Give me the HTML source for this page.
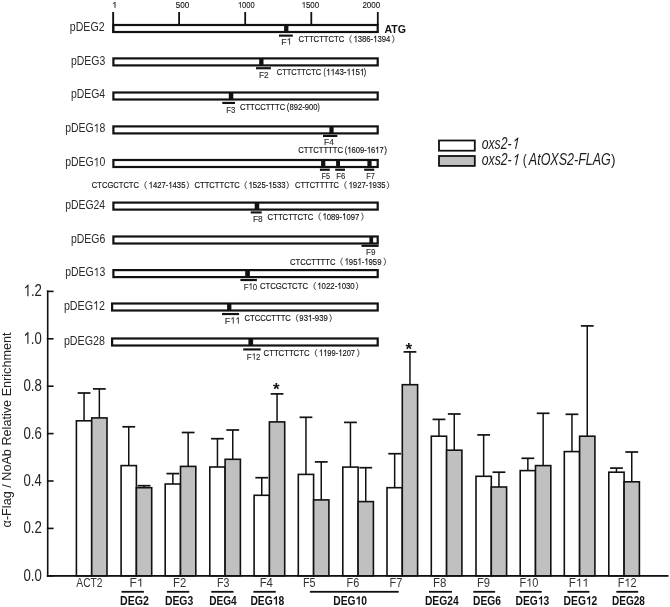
<!DOCTYPE html>
<html><head><meta charset="utf-8"><style>
html,body{margin:0;padding:0;background:#fff;width:670px;height:607px;overflow:hidden}
svg{display:block;filter:grayscale(1)}
text{font-family:"Liberation Sans", sans-serif}
</style></head><body>
<svg width="670" height="607" viewBox="0 0 670 607">
<rect width="670" height="607" fill="#fff"/>
<text x="112.01" y="7.80" font-size="8.4" textLength="5.06" lengthAdjust="spacingAndGlyphs" fill="#111" stroke="#111" stroke-width="0.1"> </text>
<path transform="translate(112.01,7.80) scale(0.00444,-0.00410)" d="M763 0H583V1147Q518 1085 412 1023T223 930V1104Q374 1175 487 1276T647 1409H763V0Z" fill="#111" stroke="#111" stroke-width="0.1" vector-effect="non-scaling-stroke"/>
<text x="175.67" y="7.80" font-size="8.4" textLength="13.65" lengthAdjust="spacingAndGlyphs" fill="#111" stroke="#111" stroke-width="0.1">500</text>
<text x="237.88" y="7.80" font-size="8.4" textLength="16.71" lengthAdjust="spacingAndGlyphs" fill="#111" stroke="#111" stroke-width="0.1"> 000</text>
<path transform="translate(237.88,7.80) scale(0.00367,-0.00410)" d="M763 0H583V1147Q518 1085 412 1023T223 930V1104Q374 1175 487 1276T647 1409H763V0Z" fill="#111" stroke="#111" stroke-width="0.1" vector-effect="non-scaling-stroke"/>
<text x="301.53" y="7.80" font-size="8.4" textLength="17.68" lengthAdjust="spacingAndGlyphs" fill="#111" stroke="#111" stroke-width="0.1"> 500</text>
<path transform="translate(301.53,7.80) scale(0.00388,-0.00410)" d="M763 0H583V1147Q518 1085 412 1023T223 930V1104Q374 1175 487 1276T647 1409H763V0Z" fill="#111" stroke="#111" stroke-width="0.1" vector-effect="non-scaling-stroke"/>
<text x="362.40" y="7.80" font-size="8.4" textLength="17.82" lengthAdjust="spacingAndGlyphs" fill="#111" stroke="#111" stroke-width="0.1">2000</text>
<rect x="178.20" y="12.00" width="1.80" height="13.00" fill="#111"/>
<rect x="244.30" y="12.00" width="1.80" height="13.00" fill="#111"/>
<rect x="310.40" y="12.00" width="1.80" height="13.00" fill="#111"/>
<rect x="376.90" y="12.00" width="1.80" height="13.00" fill="#111"/>
<rect x="112.20" y="12.00" width="1.90" height="21.00" fill="#111"/>
<rect x="113.40" y="25.00" width="264.30" height="7.00" fill="#fff" stroke="#111" stroke-width="2.2"/>
<rect x="284.10" y="24.90" width="4.30" height="7.20" fill="#111"/>
<rect x="279.00" y="34.55" width="13.80" height="2.15" fill="#111"/>
<text x="281.27" y="44.50" font-size="9.2" textLength="10.36" lengthAdjust="spacingAndGlyphs" fill="#2a2a2a" stroke="#2a2a2a" stroke-width="0.12">F </text>
<path transform="translate(286.69,44.50) scale(0.00433,-0.00449)" d="M763 0H583V1147Q518 1085 412 1023T223 930V1104Q374 1175 487 1276T647 1409H763V0Z" fill="#2a2a2a" stroke="#2a2a2a" stroke-width="0.12" vector-effect="non-scaling-stroke"/>
<text x="298.61" y="42.20" font-size="9.3" textLength="45.78" lengthAdjust="spacingAndGlyphs" fill="#111" stroke="#111" stroke-width="0.15">CTTCTTCTC</text>
<path d="M351.50,35.30 Q348.10,39.20 351.50,43.10" fill="none" stroke="#333" stroke-width="0.85"/>
<text x="353.46" y="42.20" font-size="9.3" textLength="36.87" lengthAdjust="spacingAndGlyphs" fill="#111" stroke="#111" stroke-width="0.15"> 386- 394</text>
<path transform="translate(353.46,42.20) scale(0.00376,-0.00454)" d="M763 0H583V1147Q518 1085 412 1023T223 930V1104Q374 1175 487 1276T647 1409H763V0Z" fill="#111" stroke="#111" stroke-width="0.15" vector-effect="non-scaling-stroke"/>
<path transform="translate(373.18,42.20) scale(0.00376,-0.00454)" d="M763 0H583V1147Q518 1085 412 1023T223 930V1104Q374 1175 487 1276T647 1409H763V0Z" fill="#111" stroke="#111" stroke-width="0.15" vector-effect="non-scaling-stroke"/>
<path d="M392.40,35.30 Q395.50,39.20 392.40,43.10" fill="none" stroke="#333" stroke-width="0.85"/>
<text x="69.82" y="30.60" font-size="12.6" textLength="34.71" lengthAdjust="spacingAndGlyphs" fill="#2a2a2a">pDEG2</text>
<rect x="113.40" y="58.40" width="264.30" height="7.00" fill="#fff" stroke="#111" stroke-width="2.2"/>
<rect x="259.20" y="58.30" width="4.30" height="7.20" fill="#111"/>
<rect x="256.00" y="67.15" width="14.90" height="2.15" fill="#111"/>
<text x="259.02" y="78.10" font-size="9.2" textLength="9.70" lengthAdjust="spacingAndGlyphs" fill="#2a2a2a" stroke="#2a2a2a" stroke-width="0.12">F2</text>
<text x="276.72" y="75.20" font-size="9.3" textLength="44.57" lengthAdjust="spacingAndGlyphs" fill="#111" stroke="#111" stroke-width="0.15">CTTCTTCTC</text>
<text x="323.40" y="75.20" font-size="9.3" textLength="2.14" lengthAdjust="spacingAndGlyphs" fill="#111" stroke="#111" stroke-width="0.15">(</text>
<text x="326.13" y="75.20" font-size="9.3" textLength="38.13" lengthAdjust="spacingAndGlyphs" fill="#111" stroke="#111" stroke-width="0.15">  43-  5 </text>
<path transform="translate(326.13,75.20) scale(0.00389,-0.00454)" d="M763 0H583V1147Q518 1085 412 1023T223 930V1104Q374 1175 487 1276T647 1409H763V0Z" fill="#111" stroke="#111" stroke-width="0.15" vector-effect="non-scaling-stroke"/>
<path transform="translate(330.57,75.20) scale(0.00389,-0.00454)" d="M763 0H583V1147Q518 1085 412 1023T223 930V1104Q374 1175 487 1276T647 1409H763V0Z" fill="#111" stroke="#111" stroke-width="0.15" vector-effect="non-scaling-stroke"/>
<path transform="translate(346.53,75.20) scale(0.00389,-0.00454)" d="M763 0H583V1147Q518 1085 412 1023T223 930V1104Q374 1175 487 1276T647 1409H763V0Z" fill="#111" stroke="#111" stroke-width="0.15" vector-effect="non-scaling-stroke"/>
<path transform="translate(350.96,75.20) scale(0.00389,-0.00454)" d="M763 0H583V1147Q518 1085 412 1023T223 930V1104Q374 1175 487 1276T647 1409H763V0Z" fill="#111" stroke="#111" stroke-width="0.15" vector-effect="non-scaling-stroke"/>
<path transform="translate(359.83,75.20) scale(0.00389,-0.00454)" d="M763 0H583V1147Q518 1085 412 1023T223 930V1104Q374 1175 487 1276T647 1409H763V0Z" fill="#111" stroke="#111" stroke-width="0.15" vector-effect="non-scaling-stroke"/>
<text x="363.86" y="75.20" font-size="9.3" textLength="2.39" lengthAdjust="spacingAndGlyphs" fill="#111" stroke="#111" stroke-width="0.15">)</text>
<text x="70.93" y="64.60" font-size="12.6" textLength="34.33" lengthAdjust="spacingAndGlyphs" fill="#2a2a2a">pDEG3</text>
<rect x="113.40" y="92.50" width="264.30" height="7.00" fill="#fff" stroke="#111" stroke-width="2.2"/>
<rect x="228.80" y="92.40" width="4.50" height="7.20" fill="#111"/>
<rect x="222.30" y="101.85" width="12.70" height="2.15" fill="#111"/>
<text x="226.25" y="113.00" font-size="9.2" textLength="9.19" lengthAdjust="spacingAndGlyphs" fill="#2a2a2a" stroke="#2a2a2a" stroke-width="0.12">F3</text>
<text x="239.91" y="110.10" font-size="9.3" textLength="45.28" lengthAdjust="spacingAndGlyphs" fill="#111" stroke="#111" stroke-width="0.15">CTTCCTTTC</text>
<text x="286.73" y="110.10" font-size="9.3" textLength="2.51" lengthAdjust="spacingAndGlyphs" fill="#111" stroke="#111" stroke-width="0.15">(</text>
<text x="289.57" y="110.10" font-size="9.3" textLength="28.03" lengthAdjust="spacingAndGlyphs" fill="#111" stroke="#111" stroke-width="0.15">892-900</text>
<text x="317.46" y="110.10" font-size="9.3" textLength="2.26" lengthAdjust="spacingAndGlyphs" fill="#111" stroke="#111" stroke-width="0.15">)</text>
<text x="70.93" y="98.40" font-size="12.6" textLength="34.18" lengthAdjust="spacingAndGlyphs" fill="#2a2a2a">pDEG4</text>
<rect x="113.40" y="126.40" width="264.30" height="7.00" fill="#fff" stroke="#111" stroke-width="2.2"/>
<rect x="329.40" y="126.30" width="4.20" height="7.20" fill="#111"/>
<rect x="323.00" y="134.85" width="14.30" height="2.15" fill="#111"/>
<text x="324.11" y="145.30" font-size="9.2" textLength="9.84" lengthAdjust="spacingAndGlyphs" fill="#2a2a2a" stroke="#2a2a2a" stroke-width="0.12">F4</text>
<text x="298.21" y="153.10" font-size="9.3" textLength="44.88" lengthAdjust="spacingAndGlyphs" fill="#111" stroke="#111" stroke-width="0.15">CTTCTTTTC</text>
<text x="344.63" y="153.10" font-size="9.3" textLength="2.51" lengthAdjust="spacingAndGlyphs" fill="#111" stroke="#111" stroke-width="0.15">(</text>
<text x="347.37" y="153.10" font-size="9.3" textLength="36.31" lengthAdjust="spacingAndGlyphs" fill="#111" stroke="#111" stroke-width="0.15"> 609- 6 7</text>
<path transform="translate(347.37,153.10) scale(0.00371,-0.00454)" d="M763 0H583V1147Q518 1085 412 1023T223 930V1104Q374 1175 487 1276T647 1409H763V0Z" fill="#111" stroke="#111" stroke-width="0.15" vector-effect="non-scaling-stroke"/>
<path transform="translate(366.79,153.10) scale(0.00371,-0.00454)" d="M763 0H583V1147Q518 1085 412 1023T223 930V1104Q374 1175 487 1276T647 1409H763V0Z" fill="#111" stroke="#111" stroke-width="0.15" vector-effect="non-scaling-stroke"/>
<path transform="translate(375.24,153.10) scale(0.00371,-0.00454)" d="M763 0H583V1147Q518 1085 412 1023T223 930V1104Q374 1175 487 1276T647 1409H763V0Z" fill="#111" stroke="#111" stroke-width="0.15" vector-effect="non-scaling-stroke"/>
<text x="384.15" y="153.10" font-size="9.3" textLength="2.76" lengthAdjust="spacingAndGlyphs" fill="#111" stroke="#111" stroke-width="0.15">)</text>
<text x="65.13" y="132.40" font-size="12.6" textLength="40.13" lengthAdjust="spacingAndGlyphs" fill="#2a2a2a">pDEG 8</text>
<path transform="translate(93.62,132.40) scale(0.00511,-0.00615)" d="M763 0H583V1147Q518 1085 412 1023T223 930V1104Q374 1175 487 1276T647 1409H763V0Z" fill="#2a2a2a"/>
<rect x="113.40" y="160.00" width="264.30" height="7.00" fill="#fff" stroke="#111" stroke-width="2.2"/>
<rect x="321.10" y="159.90" width="4.20" height="7.20" fill="#111"/>
<rect x="336.10" y="159.90" width="3.90" height="7.20" fill="#111"/>
<rect x="367.40" y="159.90" width="4.20" height="7.20" fill="#111"/>
<rect x="319.90" y="168.65" width="9.90" height="2.15" fill="#111"/>
<rect x="335.20" y="168.65" width="9.80" height="2.15" fill="#111"/>
<rect x="364.20" y="168.65" width="10.00" height="2.15" fill="#111"/>
<text x="321.60" y="179.30" font-size="9.2" textLength="8.50" lengthAdjust="spacingAndGlyphs" fill="#2a2a2a" stroke="#2a2a2a" stroke-width="0.12">F5</text>
<text x="336.26" y="179.30" font-size="9.2" textLength="9.08" lengthAdjust="spacingAndGlyphs" fill="#2a2a2a" stroke="#2a2a2a" stroke-width="0.12">F6</text>
<text x="366.29" y="179.30" font-size="9.2" textLength="8.68" lengthAdjust="spacingAndGlyphs" fill="#2a2a2a" stroke="#2a2a2a" stroke-width="0.12">F7</text>
<text x="91.81" y="188.20" font-size="9.3" textLength="47.17" lengthAdjust="spacingAndGlyphs" fill="#111" stroke="#111" stroke-width="0.15">CTCGCTCTC</text>
<path d="M146.50,181.30 Q143.20,185.20 146.50,189.10" fill="none" stroke="#333" stroke-width="0.85"/>
<text x="148.66" y="188.20" font-size="9.3" textLength="36.76" lengthAdjust="spacingAndGlyphs" fill="#111" stroke="#111" stroke-width="0.15"> 427- 435</text>
<path transform="translate(148.66,188.20) scale(0.00375,-0.00454)" d="M763 0H583V1147Q518 1085 412 1023T223 930V1104Q374 1175 487 1276T647 1409H763V0Z" fill="#111" stroke="#111" stroke-width="0.15" vector-effect="non-scaling-stroke"/>
<path transform="translate(168.32,188.20) scale(0.00375,-0.00454)" d="M763 0H583V1147Q518 1085 412 1023T223 930V1104Q374 1175 487 1276T647 1409H763V0Z" fill="#111" stroke="#111" stroke-width="0.15" vector-effect="non-scaling-stroke"/>
<path d="M186.90,181.30 Q190.20,185.20 186.90,189.10" fill="none" stroke="#333" stroke-width="0.85"/>
<text x="194.51" y="188.20" font-size="9.3" textLength="45.38" lengthAdjust="spacingAndGlyphs" fill="#111" stroke="#111" stroke-width="0.15">CTTCTTCTC</text>
<path d="M246.70,181.30 Q243.20,185.20 246.70,189.10" fill="none" stroke="#333" stroke-width="0.85"/>
<text x="248.46" y="188.20" font-size="9.3" textLength="37.09" lengthAdjust="spacingAndGlyphs" fill="#111" stroke="#111" stroke-width="0.15"> 525- 533</text>
<path transform="translate(248.46,188.20) scale(0.00379,-0.00454)" d="M763 0H583V1147Q518 1085 412 1023T223 930V1104Q374 1175 487 1276T647 1409H763V0Z" fill="#111" stroke="#111" stroke-width="0.15" vector-effect="non-scaling-stroke"/>
<path transform="translate(268.29,188.20) scale(0.00379,-0.00454)" d="M763 0H583V1147Q518 1085 412 1023T223 930V1104Q374 1175 487 1276T647 1409H763V0Z" fill="#111" stroke="#111" stroke-width="0.15" vector-effect="non-scaling-stroke"/>
<path d="M286.70,181.30 Q290.00,185.20 286.70,189.10" fill="none" stroke="#333" stroke-width="0.85"/>
<text x="295.02" y="188.20" font-size="9.3" textLength="43.97" lengthAdjust="spacingAndGlyphs" fill="#111" stroke="#111" stroke-width="0.15">CTTCTTTTC</text>
<path d="M346.40,181.30 Q343.10,185.20 346.40,189.10" fill="none" stroke="#333" stroke-width="0.85"/>
<text x="348.56" y="188.20" font-size="9.3" textLength="36.97" lengthAdjust="spacingAndGlyphs" fill="#111" stroke="#111" stroke-width="0.15"> 927- 935</text>
<path transform="translate(348.56,188.20) scale(0.00377,-0.00454)" d="M763 0H583V1147Q518 1085 412 1023T223 930V1104Q374 1175 487 1276T647 1409H763V0Z" fill="#111" stroke="#111" stroke-width="0.15" vector-effect="non-scaling-stroke"/>
<path transform="translate(368.33,188.20) scale(0.00377,-0.00454)" d="M763 0H583V1147Q518 1085 412 1023T223 930V1104Q374 1175 487 1276T647 1409H763V0Z" fill="#111" stroke="#111" stroke-width="0.15" vector-effect="non-scaling-stroke"/>
<path d="M387.00,181.30 Q390.50,185.20 387.00,189.10" fill="none" stroke="#333" stroke-width="0.85"/>
<text x="65.13" y="166.40" font-size="12.6" textLength="40.08" lengthAdjust="spacingAndGlyphs" fill="#2a2a2a">pDEG 0</text>
<path transform="translate(93.58,166.40) scale(0.00510,-0.00615)" d="M763 0H583V1147Q518 1085 412 1023T223 930V1104Q374 1175 487 1276T647 1409H763V0Z" fill="#2a2a2a"/>
<rect x="113.40" y="202.60" width="264.30" height="7.00" fill="#fff" stroke="#111" stroke-width="2.2"/>
<rect x="254.70" y="202.50" width="4.50" height="7.20" fill="#111"/>
<rect x="250.70" y="211.35" width="11.00" height="2.15" fill="#111"/>
<text x="252.91" y="221.60" font-size="9.2" textLength="9.75" lengthAdjust="spacingAndGlyphs" fill="#2a2a2a" stroke="#2a2a2a" stroke-width="0.12">F8</text>
<text x="267.61" y="219.60" font-size="9.3" textLength="45.78" lengthAdjust="spacingAndGlyphs" fill="#111" stroke="#111" stroke-width="0.15">CTTCTTCTC</text>
<path d="M320.60,212.70 Q317.10,216.60 320.60,220.50" fill="none" stroke="#333" stroke-width="0.85"/>
<text x="322.57" y="219.60" font-size="9.3" textLength="36.62" lengthAdjust="spacingAndGlyphs" fill="#111" stroke="#111" stroke-width="0.15"> 089- 097</text>
<path transform="translate(322.57,219.60) scale(0.00374,-0.00454)" d="M763 0H583V1147Q518 1085 412 1023T223 930V1104Q374 1175 487 1276T647 1409H763V0Z" fill="#111" stroke="#111" stroke-width="0.15" vector-effect="non-scaling-stroke"/>
<path transform="translate(342.15,219.60) scale(0.00374,-0.00454)" d="M763 0H583V1147Q518 1085 412 1023T223 930V1104Q374 1175 487 1276T647 1409H763V0Z" fill="#111" stroke="#111" stroke-width="0.15" vector-effect="non-scaling-stroke"/>
<path d="M361.50,212.70 Q364.60,216.60 361.50,220.50" fill="none" stroke="#333" stroke-width="0.85"/>
<text x="65.13" y="208.80" font-size="12.6" textLength="39.98" lengthAdjust="spacingAndGlyphs" fill="#2a2a2a">pDEG24</text>
<rect x="113.40" y="236.50" width="264.30" height="7.00" fill="#fff" stroke="#111" stroke-width="2.2"/>
<rect x="369.40" y="236.40" width="3.70" height="7.20" fill="#111"/>
<rect x="361.50" y="244.75" width="17.10" height="2.15" fill="#111"/>
<text x="366.04" y="254.60" font-size="9.2" textLength="9.45" lengthAdjust="spacingAndGlyphs" fill="#2a2a2a" stroke="#2a2a2a" stroke-width="0.12">F9</text>
<text x="289.91" y="264.70" font-size="9.3" textLength="45.58" lengthAdjust="spacingAndGlyphs" fill="#111" stroke="#111" stroke-width="0.15">CTCCTTTTC</text>
<path d="M342.60,257.80 Q339.10,261.70 342.60,265.60" fill="none" stroke="#333" stroke-width="0.85"/>
<text x="344.56" y="264.70" font-size="9.3" textLength="36.91" lengthAdjust="spacingAndGlyphs" fill="#111" stroke="#111" stroke-width="0.15"> 95 - 959</text>
<path transform="translate(344.56,264.70) scale(0.00377,-0.00454)" d="M763 0H583V1147Q518 1085 412 1023T223 930V1104Q374 1175 487 1276T647 1409H763V0Z" fill="#111" stroke="#111" stroke-width="0.15" vector-effect="non-scaling-stroke"/>
<path transform="translate(357.44,264.70) scale(0.00377,-0.00454)" d="M763 0H583V1147Q518 1085 412 1023T223 930V1104Q374 1175 487 1276T647 1409H763V0Z" fill="#111" stroke="#111" stroke-width="0.15" vector-effect="non-scaling-stroke"/>
<path transform="translate(364.30,264.70) scale(0.00377,-0.00454)" d="M763 0H583V1147Q518 1085 412 1023T223 930V1104Q374 1175 487 1276T647 1409H763V0Z" fill="#111" stroke="#111" stroke-width="0.15" vector-effect="non-scaling-stroke"/>
<path d="M383.90,257.80 Q387.10,261.70 383.90,265.60" fill="none" stroke="#333" stroke-width="0.85"/>
<text x="70.93" y="242.60" font-size="12.6" textLength="34.33" lengthAdjust="spacingAndGlyphs" fill="#2a2a2a">pDEG6</text>
<rect x="113.40" y="270.10" width="264.30" height="7.00" fill="#fff" stroke="#111" stroke-width="2.2"/>
<rect x="245.20" y="270.00" width="4.70" height="7.20" fill="#111"/>
<rect x="240.40" y="278.95" width="16.50" height="2.15" fill="#111"/>
<text x="243.65" y="289.60" font-size="9.2" textLength="13.55" lengthAdjust="spacingAndGlyphs" fill="#2a2a2a" stroke="#2a2a2a" stroke-width="0.12">F 0</text>
<path transform="translate(248.46,289.60) scale(0.00384,-0.00449)" d="M763 0H583V1147Q518 1085 412 1023T223 930V1104Q374 1175 487 1276T647 1409H763V0Z" fill="#2a2a2a" stroke="#2a2a2a" stroke-width="0.12" vector-effect="non-scaling-stroke"/>
<text x="259.91" y="289.10" font-size="9.3" textLength="48.09" lengthAdjust="spacingAndGlyphs" fill="#111" stroke="#111" stroke-width="0.15">CTCGCTCTC</text>
<path d="M315.70,282.20 Q312.10,286.10 315.70,290.00" fill="none" stroke="#333" stroke-width="0.85"/>
<text x="317.25" y="289.10" font-size="9.3" textLength="37.46" lengthAdjust="spacingAndGlyphs" fill="#111" stroke="#111" stroke-width="0.15"> 022- 030</text>
<path transform="translate(317.25,289.10) scale(0.00382,-0.00454)" d="M763 0H583V1147Q518 1085 412 1023T223 930V1104Q374 1175 487 1276T647 1409H763V0Z" fill="#111" stroke="#111" stroke-width="0.15" vector-effect="non-scaling-stroke"/>
<path transform="translate(337.28,289.10) scale(0.00382,-0.00454)" d="M763 0H583V1147Q518 1085 412 1023T223 930V1104Q374 1175 487 1276T647 1409H763V0Z" fill="#111" stroke="#111" stroke-width="0.15" vector-effect="non-scaling-stroke"/>
<path d="M356.20,282.20 Q359.30,286.10 356.20,290.00" fill="none" stroke="#333" stroke-width="0.85"/>
<text x="65.13" y="276.30" font-size="12.6" textLength="40.13" lengthAdjust="spacingAndGlyphs" fill="#2a2a2a">pDEG 3</text>
<path transform="translate(93.62,276.30) scale(0.00511,-0.00615)" d="M763 0H583V1147Q518 1085 412 1023T223 930V1104Q374 1175 487 1276T647 1409H763V0Z" fill="#2a2a2a"/>
<rect x="112.10" y="303.50" width="265.60" height="7.00" fill="#fff" stroke="#111" stroke-width="2.2"/>
<rect x="227.10" y="303.40" width="4.30" height="7.20" fill="#111"/>
<rect x="222.00" y="312.95" width="17.10" height="2.15" fill="#111"/>
<text x="224.76" y="323.60" font-size="9.2" textLength="15.61" lengthAdjust="spacingAndGlyphs" fill="#2a2a2a" stroke="#2a2a2a" stroke-width="0.12">F  </text>
<path transform="translate(230.29,323.60) scale(0.00442,-0.00449)" d="M763 0H583V1147Q518 1085 412 1023T223 930V1104Q374 1175 487 1276T647 1409H763V0Z" fill="#2a2a2a" stroke="#2a2a2a" stroke-width="0.12" vector-effect="non-scaling-stroke"/>
<path transform="translate(235.33,323.60) scale(0.00442,-0.00449)" d="M763 0H583V1147Q518 1085 412 1023T223 930V1104Q374 1175 487 1276T647 1409H763V0Z" fill="#2a2a2a" stroke="#2a2a2a" stroke-width="0.12" vector-effect="non-scaling-stroke"/>
<text x="244.51" y="321.10" font-size="9.3" textLength="46.38" lengthAdjust="spacingAndGlyphs" fill="#111" stroke="#111" stroke-width="0.15">CTCCCTTTC</text>
<path d="M298.10,314.20 Q294.50,318.10 298.10,322.00" fill="none" stroke="#333" stroke-width="0.85"/>
<text x="299.34" y="321.10" font-size="9.3" textLength="28.43" lengthAdjust="spacingAndGlyphs" fill="#111" stroke="#111" stroke-width="0.15">93 -939</text>
<path transform="translate(307.95,321.10) scale(0.00378,-0.00454)" d="M763 0H583V1147Q518 1085 412 1023T223 930V1104Q374 1175 487 1276T647 1409H763V0Z" fill="#111" stroke="#111" stroke-width="0.15" vector-effect="non-scaling-stroke"/>
<path d="M329.70,314.20 Q332.80,318.10 329.70,322.00" fill="none" stroke="#333" stroke-width="0.85"/>
<text x="63.91" y="309.70" font-size="12.6" textLength="41.13" lengthAdjust="spacingAndGlyphs" fill="#2a2a2a">pDEG 2</text>
<path transform="translate(93.11,309.70) scale(0.00524,-0.00615)" d="M763 0H583V1147Q518 1085 412 1023T223 930V1104Q374 1175 487 1276T647 1409H763V0Z" fill="#2a2a2a"/>
<rect x="112.10" y="338.50" width="265.60" height="7.00" fill="#fff" stroke="#111" stroke-width="2.2"/>
<rect x="248.40" y="338.40" width="4.70" height="7.20" fill="#111"/>
<rect x="243.20" y="348.35" width="17.50" height="2.15" fill="#111"/>
<text x="246.85" y="359.50" font-size="9.2" textLength="13.65" lengthAdjust="spacingAndGlyphs" fill="#2a2a2a" stroke="#2a2a2a" stroke-width="0.12">F 2</text>
<path transform="translate(251.69,359.50) scale(0.00387,-0.00449)" d="M763 0H583V1147Q518 1085 412 1023T223 930V1104Q374 1175 487 1276T647 1409H763V0Z" fill="#2a2a2a" stroke="#2a2a2a" stroke-width="0.12" vector-effect="non-scaling-stroke"/>
<text x="263.61" y="356.00" font-size="9.3" textLength="45.89" lengthAdjust="spacingAndGlyphs" fill="#111" stroke="#111" stroke-width="0.15">CTTCTTCTC</text>
<path d="M317.00,349.10 Q313.40,353.00 317.00,356.90" fill="none" stroke="#333" stroke-width="0.85"/>
<text x="318.98" y="356.00" font-size="9.3" textLength="36.10" lengthAdjust="spacingAndGlyphs" fill="#111" stroke="#111" stroke-width="0.15">  99- 207</text>
<path transform="translate(318.98,356.00) scale(0.00369,-0.00454)" d="M763 0H583V1147Q518 1085 412 1023T223 930V1104Q374 1175 487 1276T647 1409H763V0Z" fill="#111" stroke="#111" stroke-width="0.15" vector-effect="non-scaling-stroke"/>
<path transform="translate(323.18,356.00) scale(0.00369,-0.00454)" d="M763 0H583V1147Q518 1085 412 1023T223 930V1104Q374 1175 487 1276T647 1409H763V0Z" fill="#111" stroke="#111" stroke-width="0.15" vector-effect="non-scaling-stroke"/>
<path transform="translate(338.29,356.00) scale(0.00369,-0.00454)" d="M763 0H583V1147Q518 1085 412 1023T223 930V1104Q374 1175 487 1276T647 1409H763V0Z" fill="#111" stroke="#111" stroke-width="0.15" vector-effect="non-scaling-stroke"/>
<path d="M357.40,349.10 Q360.50,353.00 357.40,356.90" fill="none" stroke="#333" stroke-width="0.85"/>
<text x="63.91" y="344.70" font-size="12.6" textLength="41.06" lengthAdjust="spacingAndGlyphs" fill="#2a2a2a">pDEG28</text>
<text x="384.45" y="32.60" font-size="11.5" textLength="21.59" lengthAdjust="spacingAndGlyphs" font-weight="bold" fill="#111">ATG</text>
<rect x="439.00" y="140.50" width="35.80" height="10.20" fill="#fff" stroke="#111" stroke-width="1.8"/>
<rect x="439.00" y="156.00" width="35.80" height="9.90" fill="#c0c0c0" stroke="#111" stroke-width="1.8"/>
<text x="481.70" y="148.90" font-size="16.5" textLength="36.63" lengthAdjust="spacingAndGlyphs" font-style="italic" fill="#1a1a1a">oxs2- </text>
<path transform="translate(511.54,148.90) skewX(-12) scale(0.00596,-0.00806)" d="M763 0H583V1147Q518 1085 412 1023T223 930V1104Q374 1175 487 1276T647 1409H763V0Z" fill="#1a1a1a"/>
<text x="481.70" y="165.20" font-size="16.5" textLength="36.84" lengthAdjust="spacingAndGlyphs" font-style="italic" fill="#1a1a1a">oxs2- </text>
<path transform="translate(511.71,165.20) skewX(-12) scale(0.00599,-0.00806)" d="M763 0H583V1147Q518 1085 412 1023T223 930V1104Q374 1175 487 1276T647 1409H763V0Z" fill="#1a1a1a"/>
<text x="522.75" y="165.30" font-size="15" textLength="4.02" lengthAdjust="spacingAndGlyphs" fill="#1a1a1a">(</text>
<text x="528.82" y="165.20" font-size="16.5" textLength="82.02" lengthAdjust="spacingAndGlyphs" font-style="italic" fill="#1a1a1a">AtOXS2-FLAG</text>
<text x="610.92" y="165.30" font-size="15" textLength="4.52" lengthAdjust="spacingAndGlyphs" fill="#1a1a1a">)</text>
<rect x="46.90" y="290.40" width="1.60" height="286.40" fill="#111"/>
<rect x="46.90" y="575.00" width="621.60" height="1.80" fill="#111"/>
<rect x="46.90" y="575.00" width="6.70" height="1.60" fill="#111"/>
<text x="23.48" y="580.70" font-size="17" textLength="18.33" lengthAdjust="spacingAndGlyphs" fill="#222">0.0</text>
<rect x="46.90" y="527.60" width="6.70" height="1.60" fill="#111"/>
<text x="23.48" y="533.30" font-size="17" textLength="18.49" lengthAdjust="spacingAndGlyphs" fill="#222">0.2</text>
<rect x="46.90" y="480.20" width="6.70" height="1.60" fill="#111"/>
<text x="23.49" y="485.90" font-size="17" textLength="18.19" lengthAdjust="spacingAndGlyphs" fill="#222">0.4</text>
<rect x="46.90" y="432.80" width="6.70" height="1.60" fill="#111"/>
<text x="23.48" y="438.50" font-size="17" textLength="18.40" lengthAdjust="spacingAndGlyphs" fill="#222">0.6</text>
<rect x="46.90" y="385.40" width="6.70" height="1.60" fill="#111"/>
<text x="23.48" y="391.10" font-size="17" textLength="18.39" lengthAdjust="spacingAndGlyphs" fill="#222">0.8</text>
<rect x="46.90" y="338.00" width="6.70" height="1.60" fill="#111"/>
<text x="23.57" y="343.70" font-size="17" textLength="18.24" lengthAdjust="spacingAndGlyphs" fill="#222"> .0</text>
<path transform="translate(23.57,343.70) scale(0.00641,-0.00830)" d="M763 0H583V1147Q518 1085 412 1023T223 930V1104Q374 1175 487 1276T647 1409H763V0Z" fill="#222"/>
<rect x="46.90" y="290.60" width="6.70" height="1.60" fill="#111"/>
<text x="23.56" y="296.30" font-size="17" textLength="18.41" lengthAdjust="spacingAndGlyphs" fill="#222"> .2</text>
<path transform="translate(23.56,296.30) scale(0.00647,-0.00830)" d="M763 0H583V1147Q518 1085 412 1023T223 930V1104Q374 1175 487 1276T647 1409H763V0Z" fill="#222"/>
<text transform="translate(11.0,527.4) rotate(-90)" x="0" y="0" font-size="12.6" textLength="195" lengthAdjust="spacingAndGlyphs" fill="#222">α-Flag / NoAb Relative Enrichment</text>
<rect x="83.30" y="393.00" width="1.50" height="28.00" fill="#111"/>
<rect x="77.65" y="392.15" width="12.80" height="1.70" fill="#111"/>
<rect x="98.60" y="388.90" width="1.50" height="29.20" fill="#111"/>
<rect x="92.95" y="388.05" width="12.80" height="1.70" fill="#111"/>
<rect x="76.40" y="420.80" width="15.30" height="155.00" fill="#fff" stroke="#111" stroke-width="1.6"/>
<rect x="91.70" y="417.90" width="15.30" height="157.90" fill="#c0c0c0" stroke="#111" stroke-width="1.6"/>
<rect x="128.00" y="426.80" width="1.50" height="39.00" fill="#111"/>
<rect x="122.35" y="425.95" width="12.80" height="1.70" fill="#111"/>
<rect x="143.30" y="485.70" width="1.50" height="2.20" fill="#111"/>
<rect x="137.65" y="484.85" width="12.80" height="1.70" fill="#111"/>
<rect x="121.10" y="465.60" width="15.30" height="110.20" fill="#fff" stroke="#111" stroke-width="1.6"/>
<rect x="136.40" y="487.70" width="15.30" height="88.10" fill="#c0c0c0" stroke="#111" stroke-width="1.6"/>
<rect x="172.10" y="473.60" width="1.50" height="10.60" fill="#111"/>
<rect x="166.45" y="472.75" width="12.80" height="1.70" fill="#111"/>
<rect x="187.40" y="432.50" width="1.50" height="34.10" fill="#111"/>
<rect x="181.75" y="431.65" width="12.80" height="1.70" fill="#111"/>
<rect x="165.20" y="484.00" width="15.30" height="91.80" fill="#fff" stroke="#111" stroke-width="1.6"/>
<rect x="180.50" y="466.40" width="15.30" height="109.40" fill="#c0c0c0" stroke="#111" stroke-width="1.6"/>
<rect x="216.70" y="438.70" width="1.50" height="28.50" fill="#111"/>
<rect x="211.05" y="437.85" width="12.80" height="1.70" fill="#111"/>
<rect x="232.00" y="430.00" width="1.50" height="29.50" fill="#111"/>
<rect x="226.35" y="429.15" width="12.80" height="1.70" fill="#111"/>
<rect x="209.80" y="467.00" width="15.30" height="108.80" fill="#fff" stroke="#111" stroke-width="1.6"/>
<rect x="225.10" y="459.30" width="15.30" height="116.50" fill="#c0c0c0" stroke="#111" stroke-width="1.6"/>
<rect x="261.00" y="477.70" width="1.50" height="17.80" fill="#111"/>
<rect x="255.35" y="476.85" width="12.80" height="1.70" fill="#111"/>
<rect x="276.30" y="393.90" width="1.50" height="28.20" fill="#111"/>
<rect x="270.65" y="393.05" width="12.80" height="1.70" fill="#111"/>
<rect x="254.10" y="495.30" width="15.30" height="80.50" fill="#fff" stroke="#111" stroke-width="1.6"/>
<rect x="269.40" y="421.90" width="15.30" height="153.90" fill="#c0c0c0" stroke="#111" stroke-width="1.6"/>
<rect x="305.20" y="417.30" width="1.50" height="57.30" fill="#111"/>
<rect x="299.55" y="416.45" width="12.80" height="1.70" fill="#111"/>
<rect x="320.50" y="461.90" width="1.50" height="38.20" fill="#111"/>
<rect x="314.85" y="461.05" width="12.80" height="1.70" fill="#111"/>
<rect x="298.30" y="474.40" width="15.30" height="101.40" fill="#fff" stroke="#111" stroke-width="1.6"/>
<rect x="313.60" y="499.90" width="15.30" height="75.90" fill="#c0c0c0" stroke="#111" stroke-width="1.6"/>
<rect x="349.70" y="422.40" width="1.50" height="44.90" fill="#111"/>
<rect x="344.05" y="421.55" width="12.80" height="1.70" fill="#111"/>
<rect x="365.00" y="467.70" width="1.50" height="34.10" fill="#111"/>
<rect x="359.35" y="466.85" width="12.80" height="1.70" fill="#111"/>
<rect x="342.80" y="467.10" width="15.30" height="108.70" fill="#fff" stroke="#111" stroke-width="1.6"/>
<rect x="358.10" y="501.60" width="15.30" height="74.20" fill="#c0c0c0" stroke="#111" stroke-width="1.6"/>
<rect x="393.90" y="453.70" width="1.50" height="34.20" fill="#111"/>
<rect x="388.25" y="452.85" width="12.80" height="1.70" fill="#111"/>
<rect x="409.20" y="351.90" width="1.50" height="33.00" fill="#111"/>
<rect x="403.55" y="351.05" width="12.80" height="1.70" fill="#111"/>
<rect x="387.00" y="487.70" width="15.30" height="88.10" fill="#fff" stroke="#111" stroke-width="1.6"/>
<rect x="402.30" y="384.70" width="15.30" height="191.10" fill="#c0c0c0" stroke="#111" stroke-width="1.6"/>
<rect x="438.20" y="419.40" width="1.50" height="17.00" fill="#111"/>
<rect x="432.55" y="418.55" width="12.80" height="1.70" fill="#111"/>
<rect x="453.50" y="414.00" width="1.50" height="36.40" fill="#111"/>
<rect x="447.85" y="413.15" width="12.80" height="1.70" fill="#111"/>
<rect x="431.30" y="436.20" width="15.30" height="139.60" fill="#fff" stroke="#111" stroke-width="1.6"/>
<rect x="446.60" y="450.20" width="15.30" height="125.60" fill="#c0c0c0" stroke="#111" stroke-width="1.6"/>
<rect x="482.90" y="434.90" width="1.50" height="41.60" fill="#111"/>
<rect x="477.25" y="434.05" width="12.80" height="1.70" fill="#111"/>
<rect x="498.20" y="472.20" width="1.50" height="15.00" fill="#111"/>
<rect x="492.55" y="471.35" width="12.80" height="1.70" fill="#111"/>
<rect x="476.00" y="476.30" width="15.30" height="99.50" fill="#fff" stroke="#111" stroke-width="1.6"/>
<rect x="491.30" y="487.00" width="15.30" height="88.80" fill="#c0c0c0" stroke="#111" stroke-width="1.6"/>
<rect x="527.10" y="458.30" width="1.50" height="12.50" fill="#111"/>
<rect x="521.45" y="457.45" width="12.80" height="1.70" fill="#111"/>
<rect x="542.40" y="413.30" width="1.50" height="52.50" fill="#111"/>
<rect x="536.75" y="412.45" width="12.80" height="1.70" fill="#111"/>
<rect x="520.20" y="470.60" width="15.30" height="105.20" fill="#fff" stroke="#111" stroke-width="1.6"/>
<rect x="535.50" y="465.60" width="15.30" height="110.20" fill="#c0c0c0" stroke="#111" stroke-width="1.6"/>
<rect x="571.20" y="414.30" width="1.50" height="37.50" fill="#111"/>
<rect x="565.55" y="413.45" width="12.80" height="1.70" fill="#111"/>
<rect x="586.50" y="325.90" width="1.50" height="110.50" fill="#111"/>
<rect x="580.85" y="325.05" width="12.80" height="1.70" fill="#111"/>
<rect x="564.30" y="451.60" width="15.30" height="124.20" fill="#fff" stroke="#111" stroke-width="1.6"/>
<rect x="579.60" y="436.20" width="15.30" height="139.60" fill="#c0c0c0" stroke="#111" stroke-width="1.6"/>
<rect x="615.70" y="468.10" width="1.50" height="4.30" fill="#111"/>
<rect x="610.05" y="467.25" width="12.80" height="1.70" fill="#111"/>
<rect x="631.00" y="452.00" width="1.50" height="30.00" fill="#111"/>
<rect x="625.35" y="451.15" width="12.80" height="1.70" fill="#111"/>
<rect x="608.80" y="472.20" width="15.30" height="103.60" fill="#fff" stroke="#111" stroke-width="1.6"/>
<rect x="624.10" y="481.80" width="15.30" height="94.00" fill="#c0c0c0" stroke="#111" stroke-width="1.6"/>
<text x="276.4" y="394.5" font-size="17" font-weight="bold" text-anchor="middle" fill="#111">*</text>
<text x="408.9" y="355.0" font-size="17" font-weight="bold" text-anchor="middle" fill="#111">*</text>
<text x="76.28" y="586.70" font-size="12" textLength="26.34" lengthAdjust="spacingAndGlyphs" fill="#333">ACT2</text>
<text x="129.41" y="586.70" font-size="12" textLength="14.11" lengthAdjust="spacingAndGlyphs" fill="#333">F </text>
<path transform="translate(136.79,586.70) scale(0.00590,-0.00586)" d="M763 0H583V1147Q518 1085 412 1023T223 930V1104Q374 1175 487 1276T647 1409H763V0Z" fill="#333"/>
<text x="173.07" y="586.70" font-size="12" textLength="13.20" lengthAdjust="spacingAndGlyphs" fill="#333">F2</text>
<text x="217.03" y="586.70" font-size="12" textLength="12.44" lengthAdjust="spacingAndGlyphs" fill="#333">F3</text>
<text x="259.67" y="586.70" font-size="12" textLength="13.27" lengthAdjust="spacingAndGlyphs" fill="#333">F4</text>
<text x="303.01" y="586.70" font-size="12" textLength="12.64" lengthAdjust="spacingAndGlyphs" fill="#333">F5</text>
<text x="346.61" y="586.70" font-size="12" textLength="12.67" lengthAdjust="spacingAndGlyphs" fill="#333">F6</text>
<text x="389.60" y="586.70" font-size="12" textLength="12.75" lengthAdjust="spacingAndGlyphs" fill="#333">F7</text>
<text x="433.05" y="586.70" font-size="12" textLength="13.45" lengthAdjust="spacingAndGlyphs" fill="#333">F8</text>
<text x="476.88" y="586.70" font-size="12" textLength="13.05" lengthAdjust="spacingAndGlyphs" fill="#333">F9</text>
<text x="519.49" y="586.70" font-size="12" textLength="19.04" lengthAdjust="spacingAndGlyphs" fill="#333">F 0</text>
<path transform="translate(526.24,586.70) scale(0.00539,-0.00586)" d="M763 0H583V1147Q518 1085 412 1023T223 930V1104Q374 1175 487 1276T647 1409H763V0Z" fill="#333"/>
<text x="568.74" y="586.70" font-size="12" textLength="20.10" lengthAdjust="spacingAndGlyphs" fill="#333">F  </text>
<path transform="translate(575.87,586.70) scale(0.00570,-0.00586)" d="M763 0H583V1147Q518 1085 412 1023T223 930V1104Q374 1175 487 1276T647 1409H763V0Z" fill="#333"/>
<path transform="translate(582.35,586.70) scale(0.00570,-0.00586)" d="M763 0H583V1147Q518 1085 412 1023T223 930V1104Q374 1175 487 1276T647 1409H763V0Z" fill="#333"/>
<text x="617.70" y="586.70" font-size="12" textLength="18.85" lengthAdjust="spacingAndGlyphs" fill="#333">F 2</text>
<path transform="translate(624.38,586.70) scale(0.00534,-0.00586)" d="M763 0H583V1147Q518 1085 412 1023T223 930V1104Q374 1175 487 1276T647 1409H763V0Z" fill="#333"/>
<rect x="121.50" y="590.90" width="22.40" height="1.80" fill="#111"/>
<rect x="166.90" y="590.90" width="22.40" height="1.80" fill="#111"/>
<rect x="211.30" y="590.90" width="22.20" height="1.80" fill="#111"/>
<rect x="253.40" y="590.90" width="22.40" height="1.80" fill="#111"/>
<rect x="309.90" y="590.90" width="88.80" height="1.80" fill="#111"/>
<rect x="429.00" y="590.90" width="23.00" height="1.80" fill="#111"/>
<rect x="473.30" y="590.90" width="21.80" height="1.80" fill="#111"/>
<rect x="519.50" y="590.90" width="22.20" height="1.80" fill="#111"/>
<rect x="567.40" y="590.90" width="22.00" height="1.80" fill="#111"/>
<rect x="616.30" y="590.90" width="21.80" height="1.80" fill="#111"/>
<text x="119.99" y="604.80" font-size="12.5" textLength="28.83" lengthAdjust="spacingAndGlyphs" font-weight="bold" fill="#111">DEG2</text>
<text x="164.91" y="604.80" font-size="12.5" textLength="28.27" lengthAdjust="spacingAndGlyphs" font-weight="bold" fill="#111">DEG3</text>
<text x="209.22" y="604.80" font-size="12.5" textLength="27.53" lengthAdjust="spacingAndGlyphs" font-weight="bold" fill="#111">DEG4</text>
<text x="250.41" y="604.80" font-size="12.5" textLength="33.81" lengthAdjust="spacingAndGlyphs" font-weight="bold" fill="#111">DEG 8</text>
<path transform="translate(272.75,604.80) scale(0.00503,-0.00610)" d="M856 0H575V1059Q421 915 212 846V1101Q322 1137 451 1237T628 1409H856V0Z" fill="#111"/>
<text x="333.21" y="604.80" font-size="12.5" textLength="33.71" lengthAdjust="spacingAndGlyphs" font-weight="bold" fill="#111">DEG 0</text>
<path transform="translate(355.49,604.80) scale(0.00502,-0.00610)" d="M856 0H575V1059Q421 915 212 846V1101Q322 1137 451 1237T628 1409H856V0Z" fill="#111"/>
<text x="424.91" y="604.80" font-size="12.5" textLength="33.74" lengthAdjust="spacingAndGlyphs" font-weight="bold" fill="#111">DEG24</text>
<text x="473.12" y="604.80" font-size="12.5" textLength="27.75" lengthAdjust="spacingAndGlyphs" font-weight="bold" fill="#111">DEG6</text>
<text x="515.61" y="604.80" font-size="12.5" textLength="33.66" lengthAdjust="spacingAndGlyphs" font-weight="bold" fill="#111">DEG 3</text>
<path transform="translate(537.85,604.80) scale(0.00501,-0.00610)" d="M856 0H575V1059Q421 915 212 846V1101Q322 1137 451 1237T628 1409H856V0Z" fill="#111"/>
<text x="563.61" y="604.80" font-size="12.5" textLength="33.70" lengthAdjust="spacingAndGlyphs" font-weight="bold" fill="#111">DEG 2</text>
<path transform="translate(585.88,604.80) scale(0.00502,-0.00610)" d="M856 0H575V1059Q421 915 212 846V1101Q322 1137 451 1237T628 1409H856V0Z" fill="#111"/>
<text x="612.03" y="604.80" font-size="12.5" textLength="32.88" lengthAdjust="spacingAndGlyphs" font-weight="bold" fill="#111">DEG28</text>
</svg>
</body></html>
